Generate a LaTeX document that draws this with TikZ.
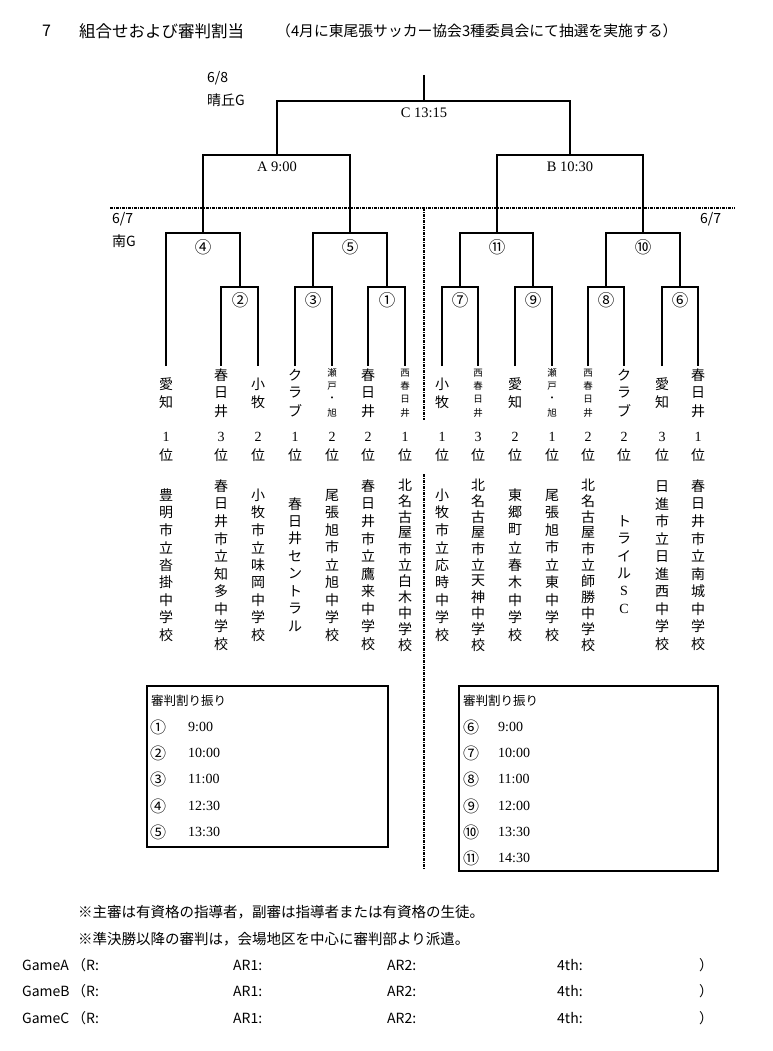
\documentclass[tikz,border=0pt]{standalone}
\usepackage{fontspec}
\setmainfont{Noto Sans CJK JP}
\newfontfamily\lat{Liberation Serif}
\usetikzlibrary{positioning}
\makeatletter
\newcommand\tate[2][18pt]{\vbox{\offinterlineskip
  \@tfor\tate@c:=#2\do{\vbox to #1{\vss\hbox to 1.3em{\hss\tate@c\hss}\vss}}}}
\makeatother

\begin{document}
\begin{tikzpicture}[x=1pt,y=-1pt,
  bracket/.style={line width=1.6pt},
  sepline/.style={line width=1.5pt,dash pattern=on 3pt off 1pt on 1pt off 1pt},
  boxline/.style={line width=1.5pt},
  matchtime/.style={inner sep=0,font=\lat\fontsize{14.5}{15}\selectfont},
  matchno/.style={inner sep=0,font=\fontsize{16.5}{17}\selectfont},
  team/.style={inner sep=0,font=\fontsize{14}{14}\selectfont},
  teamsmall/.style={inner sep=0,font=\fontsize{9.5}{10}\selectfont},
  school/.style={inner sep=0,font=\fontsize{14}{14}\selectfont},
  venue/.style={inner sep=0,anchor=west,font=\fontsize{14}{14}\selectfont},
  boxtext/.style={inner sep=0,anchor=west,font=\fontsize{12.5}{13}\selectfont},
  boxno/.style={inner sep=0,anchor=west,font=\fontsize{16}{16}\selectfont},
  boxtime/.style={inner sep=0,anchor=west,font=\lat\fontsize{14}{14}\selectfont},
  note/.style={inner sep=0,anchor=west,font=\fontsize{14.5}{15}\selectfont},
  game/.style={inner sep=0,anchor=west,font=\fontsize{14}{14}\selectfont}]
\useasboundingbox (0,0) rectangle (772,1051);

% title
\node (ttlno) [inner sep=0,anchor=west,font=\fontsize{16}{16}\selectfont] at (42,31) {7};
\node (ttl) [inner sep=0,anchor=west,font=\fontsize{16.5}{17}\selectfont] at (79,31) {組合せおよび審判割当};
\node (ttlsub) [inner sep=0,anchor=west,font=\fontsize{14.8}{15}\selectfont] at (276,31) {（4月に東尾張サッカー協会3種委員会にて抽選を実施する）};

% venues
\node (d68) [venue] at (207,78) {6/8};
\node (v68) [venue] at (207,100) {晴丘G};
\node (d67l) [venue] at (112,219) {6/7};
\node (v67) [venue] at (112,241) {南G};
\node (d67r) [venue] at (700,219) {6/7};

% junctions
\coordinate (top) at (424,75);
\coordinate (mC) at (424,101);
\coordinate (mA) at (277,155);
\coordinate (mB) at (570,155);
\coordinate (m4) at (203,233);
\coordinate (m5) at (350,233);
\coordinate (m11) at (497,233);
\coordinate (m10) at (643,233);
\coordinate (m2) at (240,287);
\coordinate (m3) at (313,287);
\coordinate (m1) at (387,287);
\coordinate (m7) at (460,287);
\coordinate (m9) at (533,287);
\coordinate (m8) at (606,287);
\coordinate (m6) at (680,287);
% leg ends
\coordinate (e1) at (166,366);
\coordinate (e2) at (221,366);
\coordinate (e3) at (258,366);
\coordinate (e4) at (295,366);
\coordinate (e5) at (332,366);
\coordinate (e6) at (368,366);
\coordinate (e7) at (405,366);
\coordinate (e8) at (442,366);
\coordinate (e9) at (478,366);
\coordinate (e10) at (515,366);
\coordinate (e11) at (552,366);
\coordinate (e12) at (588,366);
\coordinate (e13) at (624,366);
\coordinate (e14) at (662,366);
\coordinate (e15) at (698,366);

% bracket
\draw[bracket] (top) -- (mC);
\draw[bracket] (mA) |- (mC) -| (mB);
\draw[bracket] (m4) |- (mA) -| (m5);
\draw[bracket] (m11) |- (mB) -| (m10);
\draw[bracket] (e1) |- (m4) -| (m2);
\draw[bracket] (m3) |- (m5) -| (m1);
\draw[bracket] (m7) |- (m11) -| (m9);
\draw[bracket] (m8) |- (m10) -| (m6);
\draw[bracket] (e2) |- (m2) -| (e3);
\draw[bracket] (e4) |- (m3) -| (e5);
\draw[bracket] (e6) |- (m1) -| (e7);
\draw[bracket] (e8) |- (m7) -| (e9);
\draw[bracket] (e10) |- (m9) -| (e11);
\draw[bracket] (e12) |- (m8) -| (e13);
\draw[bracket] (e14) |- (m6) -| (e15);

% match labels
\node (lC) [matchtime] at (424,113) {C 13:15};
\node (lA) [matchtime] at (277,167) {A 9:00};
\node (lB) [matchtime] at (570,167) {B 10:30};
\node (l4) [matchno] at (203,247) {④};
\node (l5) [matchno] at (350,247) {⑤};
\node (l11) [matchno] at (497,247) {⑪};
\node (l10) [matchno] at (643,247) {⑩};
\node (l2) [matchno] at (240,300) {②};
\node (l3) [matchno] at (313,300) {③};
\node (l1) [matchno] at (387,300) {①};
\node (l7) [matchno] at (460,300) {⑦};
\node (l9) [matchno] at (533,300) {⑨};
\node (l8) [matchno] at (606,300) {⑧};
\node (l6) [matchno] at (680,300) {⑥};

% dividers
\coordinate (sepL) at (110,208);
\coordinate (sepR) at (735,208);
\coordinate (sepT) at (424,208);
\coordinate (sepU) at (424,420);
\coordinate (sepV) at (424,474);
\coordinate (sepB) at (424,870);
\draw[sepline] (sepL) -- (sepR);
\draw[sepline] (sepT) -- (sepU);
\draw[sepline] (sepV) -- (sepB);

% teams
\node (t1) [team] at (166,393) {\tate{愛知}};
\node (t2) [team] at (221,393) {\tate{春日井}};
\node (t3) [team] at (258,393) {\tate{小牧}};
\node (t4) [team] at (295,393) {\tate{クラブ}};
\node (t5) [teamsmall] at (332,393) {\tate[13.3pt]{瀬戸・旭}};
\node (t6) [team] at (368,393) {\tate{春日井}};
\node (t7) [teamsmall] at (405,393) {\tate[13.3pt]{西春日井}};
\node (t8) [team] at (442,393) {\tate{小牧}};
\node (t9) [teamsmall] at (478,393) {\tate[13.3pt]{西春日井}};
\node (t10) [team] at (515,393) {\tate{愛知}};
\node (t11) [teamsmall] at (552,393) {\tate[13.3pt]{瀬戸・旭}};
\node (t12) [teamsmall] at (588,393) {\tate[13.3pt]{西春日井}};
\node (t13) [team] at (624,393) {\tate{クラブ}};
\node (t14) [team] at (662,393) {\tate{愛知}};
\node (t15) [team] at (698,393) {\tate{春日井}};

% ranks
\node (r1) [team] at (166,446) {\tate{{\lat 1}位}};
\node (r2) [team] at (221,446) {\tate{{\lat 3}位}};
\node (r3) [team] at (258,446) {\tate{{\lat 2}位}};
\node (r4) [team] at (295,446) {\tate{{\lat 1}位}};
\node (r5) [team] at (332,446) {\tate{{\lat 2}位}};
\node (r6) [team] at (368,446) {\tate{{\lat 2}位}};
\node (r7) [team] at (405,446) {\tate{{\lat 1}位}};
\node (r8) [team] at (442,446) {\tate{{\lat 1}位}};
\node (r9) [team] at (478,446) {\tate{{\lat 3}位}};
\node (r10) [team] at (515,446) {\tate{{\lat 2}位}};
\node (r11) [team] at (552,446) {\tate{{\lat 1}位}};
\node (r12) [team] at (588,446) {\tate{{\lat 2}位}};
\node (r13) [team] at (624,446) {\tate{{\lat 2}位}};
\node (r14) [team] at (662,446) {\tate{{\lat 3}位}};
\node (r15) [team] at (698,446) {\tate{{\lat 1}位}};

% schools
\node (s1) [school] at (166,565) {\tate[17.5pt]{豊明市立沓掛中学校}};
\node (s2) [school] at (221,565) {\tate[17.5pt]{春日井市立知多中学校}};
\node (s3) [school] at (258,565) {\tate[17.5pt]{小牧市立味岡中学校}};
\node (s4) [school] at (295,565) {\tate[17.5pt]{春日井セントラル}};
\node (s5) [school] at (332,565) {\tate[17.5pt]{尾張旭市立旭中学校}};
\node (s6) [school] at (368,565) {\tate[17.5pt]{春日井市立鷹来中学校}};
\node (s7) [school] at (405,565) {\tate[16pt]{北名古屋市立白木中学校}};
\node (s8) [school] at (442,565) {\tate[17.5pt]{小牧市立応時中学校}};
\node (s9) [school] at (478,565) {\tate[16pt]{北名古屋市立天神中学校}};
\node (s10) [school] at (515,565) {\tate[17.5pt]{東郷町立春木中学校}};
\node (s11) [school] at (552,565) {\tate[17.5pt]{尾張旭市立東中学校}};
\node (s12) [school] at (588,565) {\tate[16pt]{北名古屋市立師勝中学校}};
\node (s13) [school] at (624,565) {\tate[17.5pt]{トライル{\lat S}{\lat C}}};
\node (s14) [school] at (662,565) {\tate[17.5pt]{日進市立日進西中学校}};
\node (s15) [school] at (698,565) {\tate[17.5pt]{春日井市立南城中学校}};

% referee boxes
\draw[boxline] (147,686) rectangle (388,847);
\node (bxL) [boxtext] at (151,701) {審判割り振り};
\node (bL1) [boxno] at (150,727) {①};
\node (bL2) [boxno] at (150,753) {②};
\node (bL3) [boxno] at (150,779) {③};
\node (bL4) [boxno] at (150,806) {④};
\node (bL5) [boxno] at (150,832) {⑤};
\node (tL1) [boxtime] at (188,727) {9:00};
\node (tL2) [boxtime] at (188,753) {10:00};
\node (tL3) [boxtime] at (188,779) {11:00};
\node (tL4) [boxtime] at (188,806) {12:30};
\node (tL5) [boxtime] at (188,832) {13:30};

\draw[boxline] (459,686) rectangle (718,871);
\node (bxR) [boxtext] at (463,701) {審判割り振り};
\node (bR6) [boxno] at (463,727) {⑥};
\node (bR7) [boxno] at (463,753) {⑦};
\node (bR8) [boxno] at (463,779) {⑧};
\node (bR9) [boxno] at (463,806) {⑨};
\node (bR10) [boxno] at (463,832) {⑩};
\node (bR11) [boxno] at (463,858) {⑪};
\node (tR6) [boxtime] at (498,727) {9:00};
\node (tR7) [boxtime] at (498,753) {10:00};
\node (tR8) [boxtime] at (498,779) {11:00};
\node (tR9) [boxtime] at (498,806) {12:00};
\node (tR10) [boxtime] at (498,832) {13:30};
\node (tR11) [boxtime] at (498,858) {14:30};

% notes
\node (n1) [note] at (78,912) {※主審は有資格の指導者，副審は指導者または有資格の生徒。};
\node (n2) [note] at (78,939) {※準決勝以降の審判は，会場地区を中心に審判部より派遣。};

% game rows
\node (gA) [game] at (22,965) {GameA};
\node (gAr) [game] at (72,965) {（R:};
\node (gA1) [game] at (233,965) {AR1:};
\node (gA2) [game] at (387,965) {AR2:};
\node (gA4) [game] at (557,965) {4th:};
\node (gAe) [game] at (699,965) {）};
\node (gB) [game] at (22,991) {GameB};
\node (gBr) [game] at (72,991) {（R:};
\node (gB1) [game] at (233,991) {AR1:};
\node (gB2) [game] at (387,991) {AR2:};
\node (gB4) [game] at (557,991) {4th:};
\node (gBe) [game] at (699,991) {）};
\node (gC) [game] at (22,1018) {GameC};
\node (gCr) [game] at (72,1018) {（R:};
\node (gC1) [game] at (233,1018) {AR1:};
\node (gC2) [game] at (387,1018) {AR2:};
\node (gC4) [game] at (557,1018) {4th:};
\node (gCe) [game] at (699,1018) {）};
\end{tikzpicture}
\end{document}
